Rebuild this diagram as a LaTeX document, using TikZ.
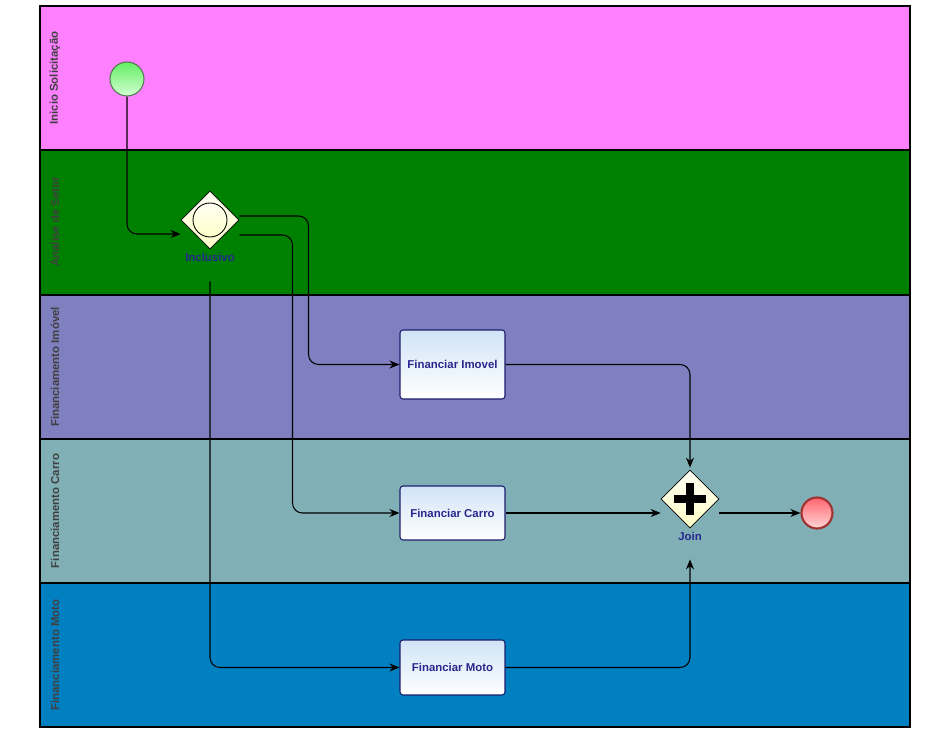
\documentclass[tikz,border=0pt]{standalone}
\usepackage{fontspec}
\setmainfont{Liberation Sans}
\usetikzlibrary{shapes.geometric,arrows.meta}
\definecolor{lanePink}{RGB}{255,128,255}
\definecolor{laneGreen}{RGB}{0,128,0}
\definecolor{lanePurple}{RGB}{128,128,192}
\definecolor{laneTeal}{RGB}{128,176,182}
\definecolor{laneBlue}{RGB}{0,128,192}
\definecolor{laneText}{RGB}{64,64,64}
\definecolor{taskText}{RGB}{40,40,140}
\definecolor{taskBorder}{RGB}{30,30,110}
\definecolor{taskTop}{RGB}{208,228,247}
\definecolor{gwTop}{RGB}{255,255,245}
\definecolor{gwBottom}{RGB}{255,255,200}
\definecolor{startTop}{RGB}{100,238,100}
\definecolor{startBottom}{RGB}{210,255,210}
\definecolor{startBorder}{RGB}{80,120,80}
\definecolor{endTop}{RGB}{255,100,110}
\definecolor{endBottom}{RGB}{255,215,215}
\definecolor{endBorder}{RGB}{160,50,50}
\begin{document}
\begin{tikzpicture}[x=0.02cm,y=-0.02cm]
	\tikzstyle{Lane} = [draw=black, line width=0.9pt]
	\tikzstyle{LaneLabel} = [rotate=90, text=laneText, font=\bfseries\fontsize{6.5}{7}\selectfont]
	\tikzstyle{Task} = [rectangle, rounded corners=0.06cm, minimum width=2.1cm, text centered, draw=taskBorder, line width=0.6pt, top color=taskTop, bottom color=white, text=taskText, font=\bfseries\fontsize{6.5}{7}\selectfont]
	\tikzstyle{Gateway} = [diamond, minimum size=1.16cm, inner sep=0pt, draw=black, line width=0.4pt, top color=gwTop, bottom color=gwBottom]
	\tikzstyle{GwLabel} = [text=taskText, font=\bfseries\fontsize{6.5}{7}\selectfont]
	\tikzstyle{arrow} = [line width=0.6pt, ->, >={Stealth[length=0.2cm,width=0.16cm]}, rounded corners=0.2cm]
	
	\useasboundingbox (0,0) rectangle (938,733);
	\fill [white] (0,0) rectangle (938,733);
	% pools and lanes
	\draw [Lane, fill=lanePink] (40,6) rectangle (910,150);
	\draw [Lane, fill=laneGreen] (40,150) rectangle (910,295);
	\draw [Lane, fill=lanePurple] (40,295) rectangle (910,439);
	\draw [Lane, fill=laneTeal] (40,439) rectangle (910,583);
	\draw [Lane, fill=laneBlue] (40,583) rectangle (910,727);
	\node (l1) [LaneLabel] at (55,78) {Inicio Solicitação};
	\node (l2) [LaneLabel] at (55,222) {Analise de Setor};
	\node (l3) [LaneLabel] at (55,367) {Financiamento Imóvel};
	\node (l4) [LaneLabel] at (55,511) {Financiamento Carro};
	\node (l5) [LaneLabel] at (55,655) {Financiamento Moto};
	
	% events and gateways
	\node (start) [circle, minimum size=0.68cm, inner sep=0pt, draw=startBorder, line width=0.6pt, top color=startTop, bottom color=startBottom] at (127,79) {};
	\node (incl) [Gateway] at (210,220) {};
	\node (inclring) [circle, minimum size=0.68cm, inner sep=0pt, draw=black, line width=0.5pt, top color=gwTop, bottom color=gwBottom] at (210,220) {};
	\node (incllbl) [GwLabel] at (210,257) {Inclusivo};
	\node (join) [Gateway] at (690,499) {};
	\draw [line width=4.5pt] ([xshift=-0.32cm]join.center) -- ([xshift=0.32cm]join.center);
	\draw [line width=4.5pt] ([yshift=-0.32cm]join.center) -- ([yshift=0.32cm]join.center);
	\node (joinlbl) [GwLabel] at (690,536) {Join};
	\node (end) [circle, minimum size=0.62cm, inner sep=0pt, draw=endBorder, line width=1.2pt, top color=endTop, bottom color=endBottom] at (817,513) {};
	
	% tasks
	\node (imovel) [Task, minimum height=1.38cm] at (452.5,364.5) {Financiar Imovel};
	\node (carro) [Task, minimum height=1.08cm] at (452.5,513) {Financiar Carro};
	\node (moto) [Task, minimum height=1.1cm] at (452.5,667.5) {Financiar Moto};
	
	% flows
	\draw [arrow] (start.south) |- ([yshift=-0.28cm]incl.west);
	\draw [arrow] ([yshift=0.08cm]incl.east) -| ([xshift=-1.82cm]imovel.west) -- (imovel.west);
	\draw [arrow] ([yshift=-0.3cm]incl.east) -| ([xshift=-2.14cm]carro.west) -- (carro.west);
	\draw [arrow] ([yshift=-0.28cm]incllbl.south) |- (moto.west);
	\draw [arrow] (imovel.east) -| ([yshift=0.04cm]join.north);
	\draw [arrow] (carro.east) -- (join.west |- carro.east);
	\draw [arrow] (moto.east) -| ([yshift=-0.26cm]joinlbl.south);
	\draw [arrow] (join.east |- end.west) -- (end.west);
\end{tikzpicture}
\end{document}
